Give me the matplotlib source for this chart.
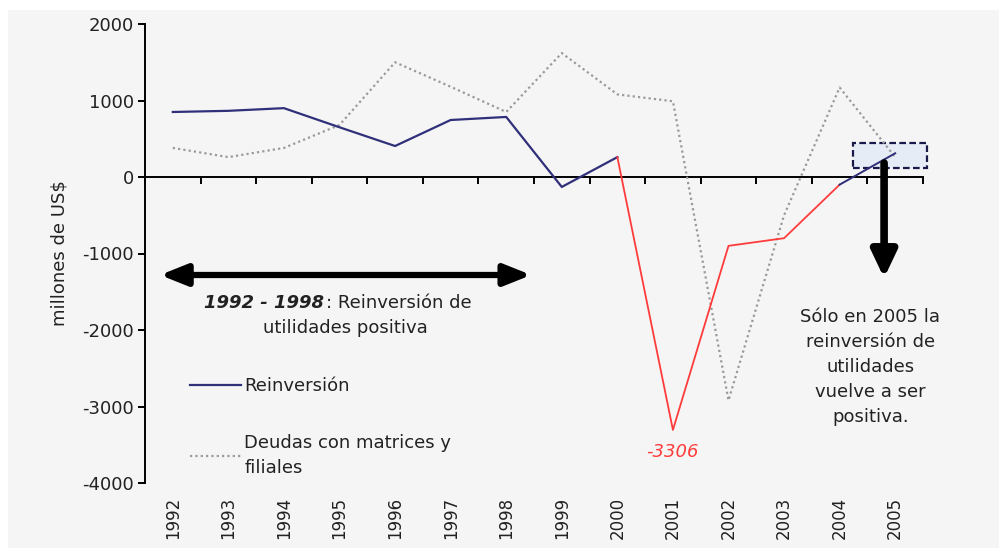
import matplotlib.pyplot as plt
import numpy as np
from matplotlib.patches import Rectangle

years = [str(y) for y in range(1992, 2006)]
reinversion = [850, 865, 900, 650, 405, 745, 785, -130, 260, -3306, -900, -800, -100, 310]
deudas = [380, 260, 380, 680, 1500, 1180, 850, 1620, 1080, 990, -2920, -500, 1170, 260]

plt.rcParams["font.family"] = ["DejaVu Sans"]
plt.rcParams["axes.unicode_minus"] = False
txt = "#222222"
fs = 13

fig = plt.figure(figsize=(9.99, 5.48), dpi=100)
fig.patch.set_facecolor("white")
# fondo gris del grafico original
fig.patches.append(Rectangle((8 / 999, 0), 1, 1 - 10 / 548, transform=fig.transFigure,
                             facecolor="#f5f5f5", edgecolor="none", zorder=-10))

ax = fig.add_axes([145 / 999, 1 - 483 / 548, 778 / 999, 459 / 548])
ax.set_facecolor("none")

x = np.arange(len(years))
blue = "#30307a"
red = "#ff3b3b"

# serie reinversion: azul hasta 2000, roja 2000-2004, azul 2004-2005
ax.plot(x[:9], reinversion[:9], color=blue, lw=1.6, zorder=4, label="Reinversión")
ax.plot(x[8:13], reinversion[8:13], color=red, lw=1.3, zorder=4)
ax.plot(x[12:], reinversion[12:], color=blue, lw=1.4, zorder=4)
ax.plot(x, deudas, color="#9a9a9a", lw=1.6, ls=(0, (1, 1.4)), zorder=3,
        label="Deudas con matrices y\nfiliales")

ax.set_xlim(-0.5, 13.5)
ax.set_ylim(-4000, 2000)
ax.set_yticks(range(-4000, 2001, 1000))

for s in ["top", "right"]:
    ax.spines[s].set_visible(False)
ax.spines["left"].set_linewidth(1.4)
ax.spines["bottom"].set_position(("data", 0))
ax.spines["bottom"].set_linewidth(1.4)
ax.set_xticks(np.arange(-0.5, 14, 1))
ax.set_xticklabels([])
ax.tick_params(axis="x", direction="out", length=5, width=1.4)
ax.tick_params(axis="y", direction="out", length=5, width=1.4, labelsize=fs,
               labelcolor=txt, pad=3)

sec = ax.secondary_xaxis(0)
sec.set_xticks(x, labels=years)
sec.spines["bottom"].set_visible(False)
sec.tick_params(length=0, pad=10, labelsize=12, labelrotation=90, labelcolor=txt)

ax.set_ylabel("millones de US$", fontsize=fs, color=txt)
ax.yaxis.set_label_coords(-0.098, 0.5)

leg = ax.legend(loc="upper left", bbox_to_anchor=(0.058, 0.23), frameon=False,
                fontsize=fs, handlelength=2.8, handletextpad=0.2,
                labelspacing=2.15, borderpad=0, borderaxespad=0)
for t in leg.get_texts():
    t.set_color(txt)
    t.set_linespacing(1.45)

# flecha doble 1992-1998
ax.annotate("", xy=(-0.23, -1281), xytext=(6.45, -1281),
            arrowprops=dict(arrowstyle="<|-|>,head_length=0.8,head_width=0.32",
                            lw=4.5, color="black", mutation_scale=20,
                            shrinkA=0, shrinkB=0))
ax.text(2.73, -1647, "1992 - 1998", ha="right", va="center", fontsize=fs,
        fontweight="bold", fontstyle="italic", color=txt)
ax.text(2.75, -1647, ": Reinversión de", ha="left", va="center", fontsize=fs,
        color=txt)
ax.text(3.1, -1974, "utilidades positiva", ha="center", va="center",
        fontsize=fs, color=txt)

# recuadro 2005
ax.add_patch(Rectangle((12.24, 118), 1.33, 326, facecolor="#e6ecf5",
                       edgecolor="#1a1a4a", lw=1.6, ls=(0, (3, 1.5)),
                       zorder=2, clip_on=False))
ax.annotate("", xy=(12.8, -1320), xytext=(12.8, 183),
            arrowprops=dict(arrowstyle="-|>,head_length=0.8,head_width=0.38",
                            lw=5.5, color="black", mutation_scale=20,
                            shrinkA=0, shrinkB=0), zorder=5)

ax.text(9.0, -3595, "-3306", ha="center", va="center", fontsize=fs,
        fontstyle="italic", color=red)
ax.text(12.55, -2484,
        "Sólo en 2005 la\nreinversión de\nutilidades\nvuelve a ser\npositiva.",
        ha="center", va="center", fontsize=fs, color=txt, linespacing=1.5)

fig.savefig("out.png", dpi=100)
